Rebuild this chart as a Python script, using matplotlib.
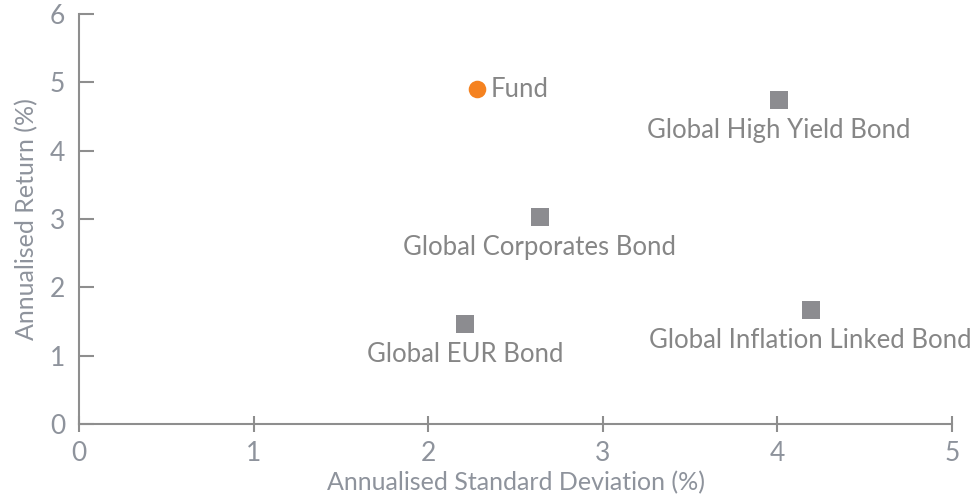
import matplotlib
matplotlib.use("Agg")
from matplotlib import pyplot as plt

# values
names = ["Global High Yield Bond", "Global Corporates Bond", "Global EUR Bond", "Global Inflation Linked Bond"]
std_dev = [4.01, 2.64, 2.21, 4.19]
returns = [4.74, 3.03, 1.46, 1.67]
fund_std = [2.28]
fund_ret = [4.90]

x_ticks = [0, 1, 2, 3, 4, 5]
y_ticks = [0, 1, 2, 3, 4, 5, 6]

axis_col = "#8e8e8e"
text_col = "#8e939c"
plt.rcParams["font.family"] = ["Lato", "DejaVu Sans"]

fig = plt.figure(figsize=(9.71, 4.99), dpi=100)
ax = fig.add_axes([0.0814, 0.1503, 0.8990, 0.8217])

ax.scatter(std_dev, returns, marker="s", s=160, color="#8c8c90", linewidths=0, zorder=3)
ax.scatter(fund_std, fund_ret, marker="o", s=160, color="#f58220", linewidths=0, zorder=3)

for n, x, y in zip(names, std_dev, returns):
    ax.annotate(n, (x, y), xytext=(0, -22), textcoords="offset points",
                ha="center", va="center", fontsize=18.5, color="#868686")
ax.annotate("Fund", (fund_std[0], fund_ret[0]), xytext=(10, 0), textcoords="offset points",
            ha="left", va="center", fontsize=18.5, color="#868686")

ax.set_xlim(0, 5)
ax.set_ylim(0, 6)
ax.set_xticks(x_ticks)
ax.set_yticks(y_ticks)

for side in ["top", "right"]:
    ax.spines[side].set_visible(False)
for side in ["left", "bottom"]:
    ax.spines[side].set_color(axis_col)
    ax.spines[side].set_linewidth(1.5)

ax.tick_params(axis="x", direction="inout", length=12, width=1.5, color=axis_col,
               labelsize=19, labelcolor=text_col, pad=6)
ax.tick_params(axis="y", direction="in", length=11, width=1.5, color=axis_col,
               labelsize=19, labelcolor=text_col, pad=10)

ax.set_xlabel("Annualised Standard Deviation (%)", fontsize=18, color=text_col, labelpad=4)
ax.set_ylabel("Annualised Return (%)", fontsize=18, color=text_col, labelpad=8)

fig.savefig("out.png", dpi=100)
